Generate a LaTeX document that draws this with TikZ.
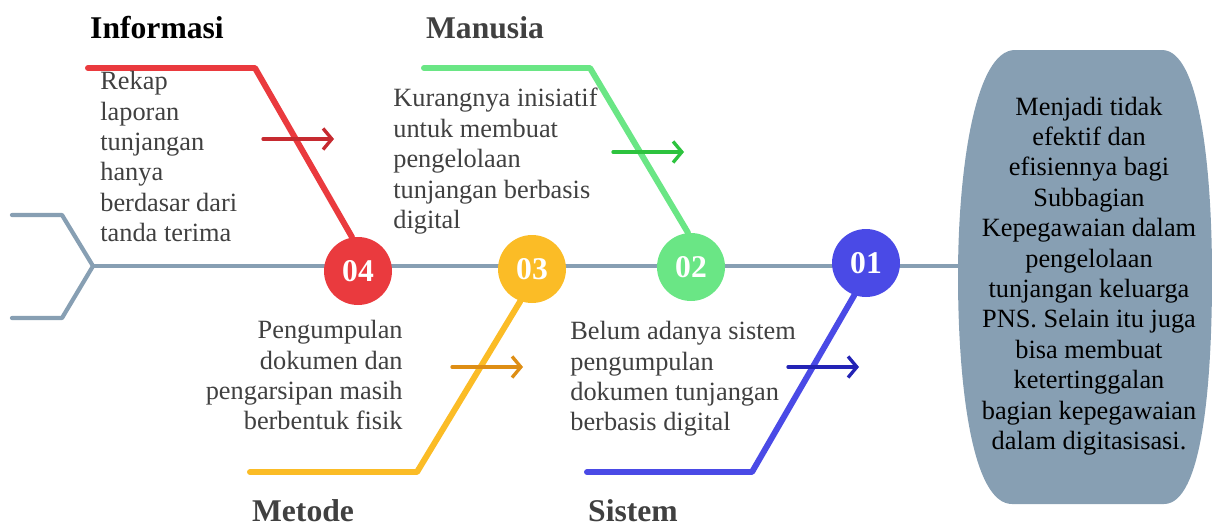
\documentclass[tikz,border=0pt]{standalone}
\usepackage{fontspec}
\setmainfont{Liberation Serif}
\usepackage{tikz}
\usetikzlibrary{arrows.meta}
\definecolor{slate}{HTML}{879FB3}
\definecolor{textgray}{HTML}{404040}
\definecolor{redbone}{HTML}{EA3A3E}
\definecolor{redarrow}{HTML}{C62A30}
\definecolor{greenbone}{HTML}{6AE685}
\definecolor{greenarrow}{HTML}{2DC33E}
\definecolor{yellowbone}{HTML}{FBBC26}
\definecolor{yellowarrow}{HTML}{DE8E14}
\definecolor{bluebone}{HTML}{4A4AE6}
\definecolor{bluearrow}{HTML}{2323B5}
\tikzstyle{spine} = [slate, line width=2.4pt, line cap=round, line join=round]
\tikzstyle{bone} = [line width=3.4pt, line cap=round, line join=round]
\tikzstyle{causearrow} = [line width=1.9pt, line cap=round, -{Straight Barb[length=5pt,width=12pt]}]
\tikzstyle{numdot} = [circle, minimum size=1.36cm, inner sep=0pt, text=white, font=\fontsize{18}{18}\selectfont\bfseries]
\tikzstyle{causetext} = [inner sep=0pt, text=textgray, font=\fontsize{15}{17.3}\selectfont]
\tikzstyle{catlabel} = [inner sep=0pt, text=textgray, font=\fontsize{18}{20}\selectfont\bfseries]

\begin{document}
\begin{tikzpicture}[x=0.02cm, y=-0.02cm]
\useasboundingbox (0,0) rectangle (1212,528);

% head
\fill[slate] (1015,50) -- (1162,50) .. controls (1200,50) and (1212,170) .. (1212,276)
  .. controls (1212,385) and (1202,504) .. (1164,504) -- (1012,504)
  .. controls (972,504) and (958,385) .. (958,276)
  .. controls (958,170) and (975,50) .. (1015,50);
\node[causetext, text=black, align=center] (effect) at (1089,276)
  {Menjadi tidak\\efektif dan\\efisiennya bagi\\Subbagian\\Kepegawaian dalam\\pengelolaan\\tunjangan keluarga\\PNS. Selain itu juga\\bisa membuat\\ketertinggalan\\bagian kepegawaian\\dalam digitasisasi.};
\coordinate (headleft) at (958,266);

% tail and spine
\coordinate (tail) at (93,266);
\coordinate (tailtop) at (12,215);
\coordinate (tailtopk) at (62,215);
\coordinate (tailbot) at (12,318);
\coordinate (tailbotk) at (62,318);
\draw[spine] (tailtop) -- (tailtopk) -- (tail) -- (tailbotk) -- (tailbot);
\draw[spine] (tail) -- (headleft);

% numbered dots
\foreach \n/\x/\y/\col in {4/358/271/redbone, 3/532/269/yellowbone, 2/691/267/greenbone, 1/866/263/bluebone}
  \node[numdot, fill=\col] (c\n) at (\x,\y) {0\n};

% bones
\coordinate (inf0) at (88,68);
\coordinate (inf1) at (255,68);
\draw[bone, redbone] (inf0) -- (inf1) -- (c4.100);
\coordinate (man0) at (424,68);
\coordinate (man1) at (590,68);
\draw[bone, greenbone] (man0) -- (man1) -- (c2.95);
\coordinate (met0) at (250,472);
\coordinate (met1) at (417,472);
\draw[bone, yellowbone] (met0) -- (met1) -- (c3.250);
\coordinate (sis0) at (587,472);
\coordinate (sis1) at (752,472);
\draw[bone, bluebone] (sis0) -- (sis1) -- (c1.250);

% small arrows
\foreach \i/\x/\y/\col in {4/263/139/redarrow, 2/613/152/greenarrow, 3/452/367/yellowarrow, 1/788/367/bluearrow} {
  \coordinate (a\i s) at (\x,\y);
  \coordinate (a\i e) at (\x+71,\y);
  \draw[causearrow, \col] (a\i s) -- (a\i e);
}

% category labels
\node[catlabel, text=black] (informasi) at (157,28) {Informasi};
\node[catlabel] (manusia) at (485,28) {Manusia};
\node[catlabel] (metode) at (303,511) {Metode};
\node[catlabel] (sistem) at (633,511) {Sistem};

% causes
\node[causetext, align=left, anchor=north west] (infotext) at (100,71)
  {Rekap\\laporan\\tunjangan\\hanya\\berdasar dari\\tanda terima};
\node[causetext, align=left, anchor=north west] (mantext) at (393,88)
  {Kurangnya inisiatif\\untuk membuat\\pengelolaan\\tunjangan berbasis\\digital};
\node[causetext, align=right, anchor=north east] (mettext) at (403,320)
  {Pengumpulan\\dokumen dan\\pengarsipan masih\\berbentuk fisik};
\node[causetext, align=left, anchor=north west] (sistext) at (570,321)
  {Belum adanya sistem\\pengumpulan\\dokumen tunjangan\\berbasis digital};
\end{tikzpicture}
\end{document}
